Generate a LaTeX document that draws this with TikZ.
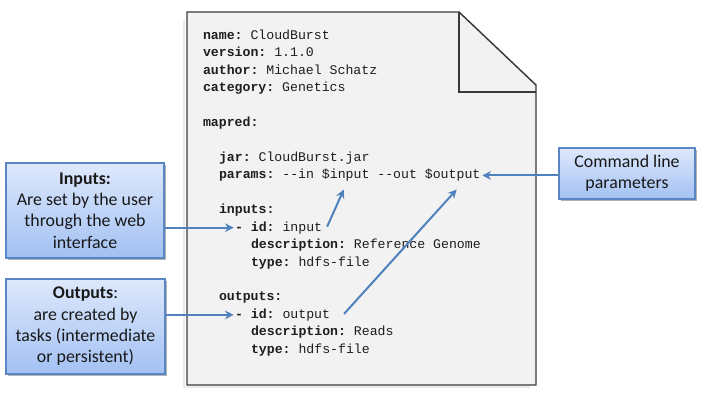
\documentclass[tikz,border=0pt]{standalone}
\usepackage{fontspec}
\setmainfont{Carlito}
\setmonofont{Liberation Mono}
\usetikzlibrary{arrows.meta,shadows,calc}

\definecolor{docfill}{HTML}{F2F2F2}
\definecolor{docline}{HTML}{3A3A3A}
\definecolor{arrowblue}{HTML}{4F81BD}
\definecolor{boxtop}{HTML}{DDE8FC}
\definecolor{boxbot}{HTML}{A3C1F3}
\definecolor{boxline}{HTML}{5A86C4}
\definecolor{codeink}{HTML}{1E1E1E}

\begin{document}
\begin{tikzpicture}[x=0.75pt,y=-0.75pt,
  code/.style={anchor=base west, inner sep=0pt, outer sep=0pt, text=codeink,
    font=\ttfamily\fontsize{9.9}{13}\selectfont},
  callout/.style={draw=boxline, line width=0.9pt, top color=boxtop, bottom color=boxbot,
    align=center, inner sep=0pt, text=black!90,
    font=\fontsize{13.4}{16}\selectfont,
    drop shadow={shadow xshift=1.3pt, shadow yshift=-1.3pt, opacity=0.3, fill=black}},
  conn/.style={draw=arrowblue, line width=1.5pt, -{Stealth[length=6.5pt,width=6.5pt]}}]

\useasboundingbox (0,0) rectangle (702,401);

% document page
\fill[black!8] (183,20) -- (183,388) -- (530,388) -- (530,386) -- (185,386) -- (185,20) -- cycle;
\draw[docline, fill=docfill, line width=1.1pt, line join=miter]
  (187,12) -- (459,12) -- (536,85) -- (536,385) -- (187,385) -- cycle;
\draw[docline, line width=1.1pt] (459,12) -- (459,92) -- (536,92);

% code lines (baseline 39.3 + 17.44 k); one character = 7.92
\node[code] (l0)  at (203,39.3)  {\textbf{name:} CloudBurst};
\node[code] (l1)  at (203,56.7)  {\textbf{version:} 1.1.0};
\node[code] (l2)  at (203,74.2)  {\textbf{author:} Michael Schatz};
\node[code] (l3)  at (203,91.6)  {\textbf{category:} Genetics};
\node[code] (l5)  at (203,126.5) {\textbf{mapred:}};
\node[code] (l7)  at (219,161.4) {\textbf{jar:} CloudBurst.jar};
\node[code] (p1)  at (219,178.8) {\textbf{params:} -{}-in};
\node[code] (pin) at (321.96,178.8) {\$input};
\node[code] (p2)  at (377.4,178.8) {-{}-out};
\node[code] (pout) at (424.9,178.8) {\$output};
\node[code] (l10) at (219,213.7) {\textbf{inputs:}};
\node[code] (idin) at (235,231.1) {\textbf{- id:} input};
\node[code] (l12) at (251,248.6) {\textbf{description:} Reference Genome};
\node[code] (l13) at (251,266.0) {\textbf{type:} hdfs-file};
\node[code] (l15) at (219,300.9) {\textbf{outputs:}};
\node[code] (idout) at (235,318.3) {\textbf{- id:} output};
\node[code] (l17) at (251,335.8) {\textbf{description:} Reads};
\node[code] (l18) at (251,353.2) {\textbf{type:} hdfs-file};

% callout boxes
\node[callout, minimum width=118.5pt, minimum height=71.25pt] (inbox) at (85,210.5)
  {\textbf{Inputs:}\\Are set by the user\\through the web\\interface};
\node[callout, minimum width=119.25pt, minimum height=71.25pt] (outbox) at (85.5,326.5)
  {\textbf{Outputs}:\\are created by\\tasks (intermediate\\or persistent)};
\node[callout, minimum width=102pt, minimum height=38.25pt] (cmdbox) at (627,173.5)
  {Command line\\parameters};

% connectors
\draw[conn] (inbox.east |- idin.west) -- ([xshift=-1pt]idin.west);
\draw[conn] (outbox.east |- idout.west) -- ([xshift=-1pt]idout.west);
\draw[conn] ($(idin.east)+(5,-1)$) -- ($(pin.south)+(-2,8)$);
\draw[conn] ($(idout.east)+(14,-1)$) -- ($(pout.south)+(4,8)$);
\draw[conn] (cmdbox.west |- pout.east) -- ([xshift=1.5pt]pout.east);

\end{tikzpicture}
\end{document}
